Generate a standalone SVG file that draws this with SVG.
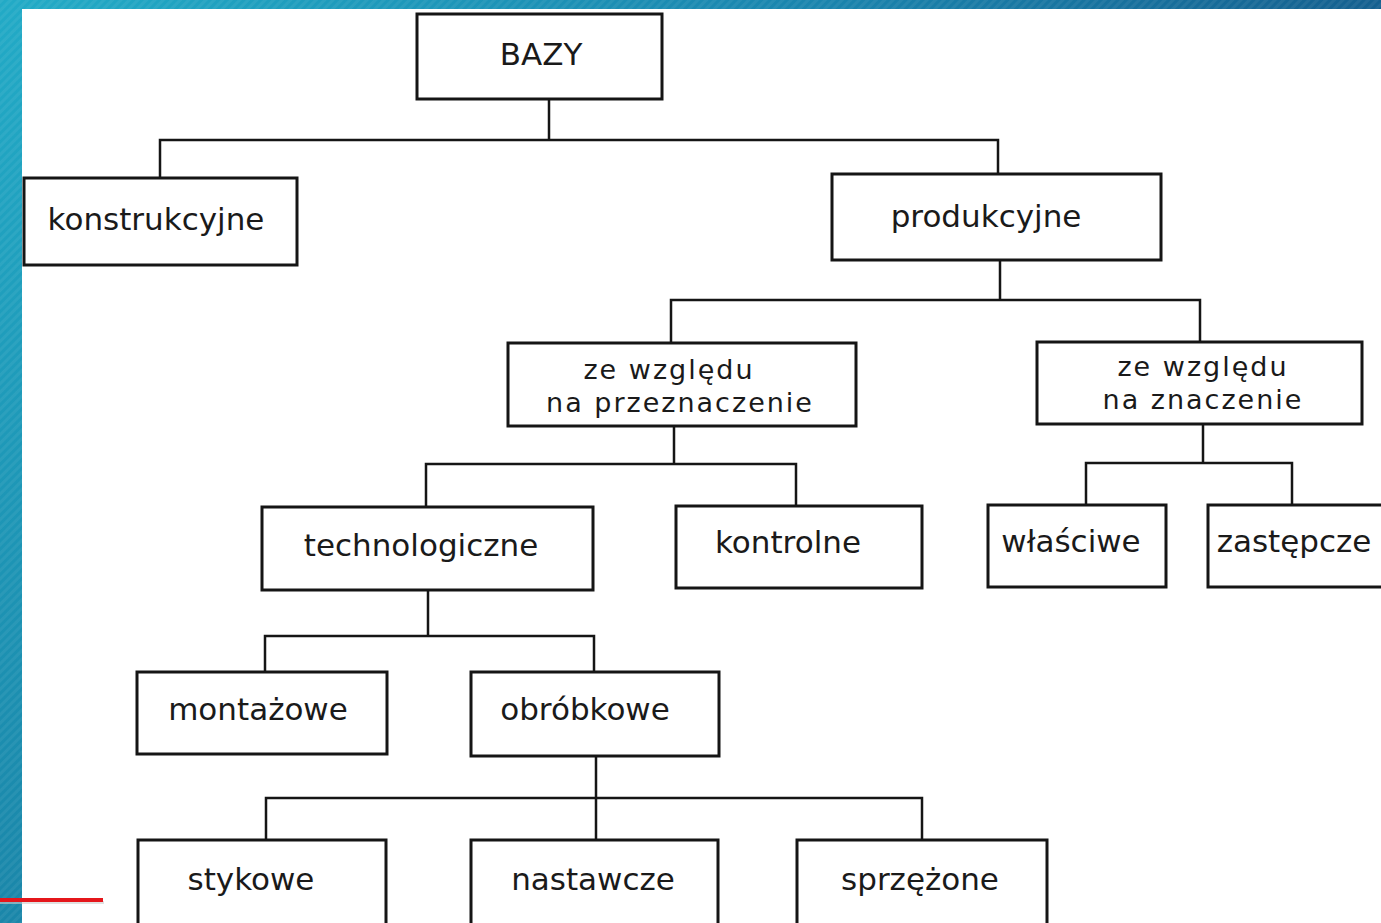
<svg xmlns="http://www.w3.org/2000/svg" width="1381" height="923" viewBox="0 0 1381 923">
<defs>
<linearGradient id="gTop" x1="0" y1="0" x2="1" y2="0"><stop offset="0" stop-color="#22abc6"/><stop offset="0.6" stop-color="#1a84ad"/><stop offset="1" stop-color="#15608f"/></linearGradient>
<linearGradient id="gLeft" x1="0" y1="0" x2="0" y2="1"><stop offset="0" stop-color="#22aac6"/><stop offset="1" stop-color="#1a86a9"/></linearGradient>
<pattern id="hatch" width="6" height="6" patternUnits="userSpaceOnUse" patternTransform="rotate(45)"><rect width="3" height="6" fill="#ffffff" opacity="0.06"/></pattern>
<style>
.box{fill:#fff;stroke:#151515;stroke-width:3}
.t{font-family:"DejaVu Sans","Liberation Sans",sans-serif;font-size:31px;fill:#1a1a1a;text-anchor:middle}
.t2{font-size:27px;letter-spacing:2px}
.c{fill:none;stroke:#151515;stroke-width:2.5}
</style>
</defs>
<rect width="1381" height="923" fill="#ffffff"/>
<rect x="0" y="0" width="1381" height="9" fill="url(#gTop)"/>
<rect x="0" y="0" width="1381" height="9" fill="url(#hatch)"/>
<rect x="0" y="0" width="22" height="923" fill="url(#gLeft)"/>
<rect x="0" y="0" width="22" height="923" fill="url(#hatch)"/>
<rect x="0" y="901" width="104" height="3" fill="#cccccc" opacity="0.6"/>
<rect x="0" y="898" width="103" height="4" fill="#e5161b"/>
<g id="connectors">
<path class="c" d="M549 99V140M160 178V140H998V174"/>
<path class="c" d="M1000 260V300M671 343V300H1200V342"/>
<path class="c" d="M674 426V464M426 507V464H796V506"/>
<path class="c" d="M1203 424V463M1086 505V463H1292V505"/>
<path class="c" d="M428 590V636M265 672V636H594V672"/>
<path class="c" d="M596 756V798M266 840V798H922V840M596 798V840"/>
</g>
<g id="n-bazy"><rect class="box" x="417" y="14" width="245" height="85"/><text class="t" x="541" y="65">BAZY</text></g>
<g id="n-konstrukcyjne"><rect class="box" x="24" y="178" width="273" height="87"/><text class="t" x="156" y="230">konstrukcyjne</text></g>
<g id="n-produkcyjne"><rect class="box" x="832" y="174" width="329" height="86"/><text class="t" x="986" y="227">produkcyjne</text></g>
<g id="n-przeznaczenie"><rect class="box" x="508" y="343" width="348" height="83"/><text class="t t2" x="669" y="379">ze względu</text><text class="t t2" x="680" y="412">na przeznaczenie</text></g>
<g id="n-znaczenie"><rect class="box" x="1037" y="342" width="325" height="82"/><text class="t t2" x="1203" y="376">ze względu</text><text class="t t2" x="1203" y="409">na znaczenie</text></g>
<g id="n-technologiczne"><rect class="box" x="262" y="507" width="331" height="83"/><text class="t" x="421" y="556">technologiczne</text></g>
<g id="n-kontrolne"><rect class="box" x="676" y="506" width="246" height="82"/><text class="t" x="788" y="553">kontrolne</text></g>
<g id="n-wlasciwe"><rect class="box" x="988" y="505" width="178" height="82"/><text class="t" x="1071" y="552">właściwe</text></g>
<g id="n-zastepcze"><rect class="box" x="1208" y="505" width="180" height="82"/><text class="t" x="1294" y="552">zastępcze</text></g>
<g id="n-montazowe"><rect class="box" x="137" y="672" width="250" height="82"/><text class="t" x="258" y="720">montażowe</text></g>
<g id="n-obrobkowe"><rect class="box" x="471" y="672" width="248" height="84"/><text class="t" x="585" y="720">obróbkowe</text></g>
<g id="n-stykowe"><rect class="box" x="138" y="840" width="248" height="90"/><text class="t" x="251" y="890">stykowe</text></g>
<g id="n-nastawcze"><rect class="box" x="471" y="840" width="247" height="90"/><text class="t" x="593" y="890">nastawcze</text></g>
<g id="n-sprzezone"><rect class="box" x="797" y="840" width="250" height="90"/><text class="t" x="920" y="890">sprzężone</text></g>
</svg>
